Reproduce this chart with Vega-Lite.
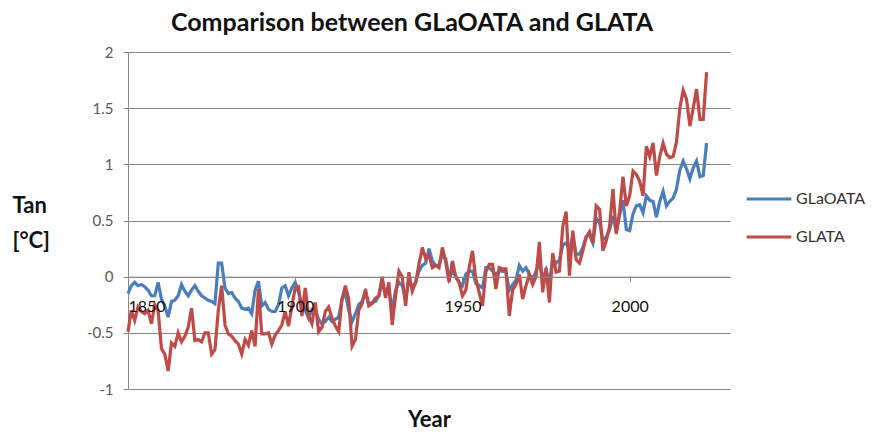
{
  "$schema": "https://vega.github.io/schema/vega-lite/v6.json",
  "autosize": "none",
  "width": 602,
  "height": 337,
  "padding": {"left": 128, "top": 52, "right": 148, "bottom": 47},
  "background": "white",
  "config": {"view": {"stroke": null}, "font": "Lato"},
  "title": {"text": "Comparison between GLaOATA and GLATA", "fontSize": 25, "fontWeight": "bold", "font": "Lato", "color": "#111111", "offset": 9, "dx": -17},
  "data": {"values": [
{"year":1850,"s":"GLaOATA","v":-0.15},{"year":1851,"s":"GLaOATA","v":-0.08},{"year":1852,"s":"GLaOATA","v":-0.05},{"year":1853,"s":"GLaOATA","v":-0.08},{"year":1854,"s":"GLaOATA","v":-0.07},{"year":1855,"s":"GLaOATA","v":-0.09},{"year":1856,"s":"GLaOATA","v":-0.12},{"year":1857,"s":"GLaOATA","v":-0.17},{"year":1858,"s":"GLaOATA","v":-0.17},{"year":1859,"s":"GLaOATA","v":-0.05},
{"year":1860,"s":"GLaOATA","v":-0.2},{"year":1861,"s":"GLaOATA","v":-0.26},{"year":1862,"s":"GLaOATA","v":-0.36},{"year":1863,"s":"GLaOATA","v":-0.22},{"year":1864,"s":"GLaOATA","v":-0.21},{"year":1865,"s":"GLaOATA","v":-0.17},{"year":1866,"s":"GLaOATA","v":-0.07},{"year":1867,"s":"GLaOATA","v":-0.13},{"year":1868,"s":"GLaOATA","v":-0.17},{"year":1869,"s":"GLaOATA","v":-0.12},
{"year":1870,"s":"GLaOATA","v":-0.08},{"year":1871,"s":"GLaOATA","v":-0.13},{"year":1872,"s":"GLaOATA","v":-0.17},{"year":1873,"s":"GLaOATA","v":-0.19},{"year":1874,"s":"GLaOATA","v":-0.21},{"year":1875,"s":"GLaOATA","v":-0.22},{"year":1876,"s":"GLaOATA","v":-0.24},{"year":1877,"s":"GLaOATA","v":0.12},{"year":1878,"s":"GLaOATA","v":0.12},{"year":1879,"s":"GLaOATA","v":-0.1},
{"year":1880,"s":"GLaOATA","v":-0.15},{"year":1881,"s":"GLaOATA","v":-0.14},{"year":1882,"s":"GLaOATA","v":-0.19},{"year":1883,"s":"GLaOATA","v":-0.22},{"year":1884,"s":"GLaOATA","v":-0.28},{"year":1885,"s":"GLaOATA","v":-0.29},{"year":1886,"s":"GLaOATA","v":-0.28},{"year":1887,"s":"GLaOATA","v":-0.33},{"year":1888,"s":"GLaOATA","v":-0.12},{"year":1889,"s":"GLaOATA","v":-0.04},
{"year":1890,"s":"GLaOATA","v":-0.26},{"year":1891,"s":"GLaOATA","v":-0.23},{"year":1892,"s":"GLaOATA","v":-0.29},{"year":1893,"s":"GLaOATA","v":-0.31},{"year":1894,"s":"GLaOATA","v":-0.31},{"year":1895,"s":"GLaOATA","v":-0.25},{"year":1896,"s":"GLaOATA","v":-0.1},{"year":1897,"s":"GLaOATA","v":-0.08},{"year":1898,"s":"GLaOATA","v":-0.17},{"year":1899,"s":"GLaOATA","v":-0.1},
{"year":1900,"s":"GLaOATA","v":-0.05},{"year":1901,"s":"GLaOATA","v":-0.14},{"year":1902,"s":"GLaOATA","v":-0.25},{"year":1903,"s":"GLaOATA","v":-0.3},{"year":1904,"s":"GLaOATA","v":-0.37},{"year":1905,"s":"GLaOATA","v":-0.29},{"year":1906,"s":"GLaOATA","v":-0.3},{"year":1907,"s":"GLaOATA","v":-0.38},{"year":1908,"s":"GLaOATA","v":-0.42},{"year":1909,"s":"GLaOATA","v":-0.4},
{"year":1910,"s":"GLaOATA","v":-0.36},{"year":1911,"s":"GLaOATA","v":-0.4},{"year":1912,"s":"GLaOATA","v":-0.38},{"year":1913,"s":"GLaOATA","v":-0.36},{"year":1914,"s":"GLaOATA","v":-0.2},{"year":1915,"s":"GLaOATA","v":-0.15},{"year":1916,"s":"GLaOATA","v":-0.3},{"year":1917,"s":"GLaOATA","v":-0.4},{"year":1918,"s":"GLaOATA","v":-0.33},{"year":1919,"s":"GLaOATA","v":-0.25},
{"year":1920,"s":"GLaOATA","v":-0.22},{"year":1921,"s":"GLaOATA","v":-0.14},{"year":1922,"s":"GLaOATA","v":-0.25},{"year":1923,"s":"GLaOATA","v":-0.23},{"year":1924,"s":"GLaOATA","v":-0.22},{"year":1925,"s":"GLaOATA","v":-0.17},{"year":1926,"s":"GLaOATA","v":-0.05},{"year":1927,"s":"GLaOATA","v":-0.15},{"year":1928,"s":"GLaOATA","v":-0.12},{"year":1929,"s":"GLaOATA","v":-0.3},
{"year":1930,"s":"GLaOATA","v":-0.12},{"year":1931,"s":"GLaOATA","v":-0.05},{"year":1932,"s":"GLaOATA","v":-0.08},{"year":1933,"s":"GLaOATA","v":-0.2},{"year":1934,"s":"GLaOATA","v":-0.03},{"year":1935,"s":"GLaOATA","v":-0.1},{"year":1936,"s":"GLaOATA","v":-0.05},{"year":1937,"s":"GLaOATA","v":0.05},{"year":1938,"s":"GLaOATA","v":0.1},{"year":1939,"s":"GLaOATA","v":0.12},
{"year":1940,"s":"GLaOATA","v":0.25},{"year":1941,"s":"GLaOATA","v":0.14},{"year":1942,"s":"GLaOATA","v":0.1},{"year":1943,"s":"GLaOATA","v":0.1},{"year":1944,"s":"GLaOATA","v":0.2},{"year":1945,"s":"GLaOATA","v":0.16},{"year":1946,"s":"GLaOATA","v":-0.02},{"year":1947,"s":"GLaOATA","v":0.05},{"year":1948,"s":"GLaOATA","v":0.0},{"year":1949,"s":"GLaOATA","v":-0.05},
{"year":1950,"s":"GLaOATA","v":-0.08},{"year":1951,"s":"GLaOATA","v":0.02},{"year":1952,"s":"GLaOATA","v":0.05},{"year":1953,"s":"GLaOATA","v":0.05},{"year":1954,"s":"GLaOATA","v":-0.06},{"year":1955,"s":"GLaOATA","v":-0.08},{"year":1956,"s":"GLaOATA","v":-0.1},{"year":1957,"s":"GLaOATA","v":0.08},{"year":1958,"s":"GLaOATA","v":0.08},{"year":1959,"s":"GLaOATA","v":0.05},
{"year":1960,"s":"GLaOATA","v":0.02},{"year":1961,"s":"GLaOATA","v":0.05},{"year":1962,"s":"GLaOATA","v":0.05},{"year":1963,"s":"GLaOATA","v":0.04},{"year":1964,"s":"GLaOATA","v":-0.12},{"year":1965,"s":"GLaOATA","v":-0.07},{"year":1966,"s":"GLaOATA","v":-0.03},{"year":1967,"s":"GLaOATA","v":0.1},{"year":1968,"s":"GLaOATA","v":0.05},{"year":1969,"s":"GLaOATA","v":0.08},
{"year":1970,"s":"GLaOATA","v":0.02},{"year":1971,"s":"GLaOATA","v":-0.02},{"year":1972,"s":"GLaOATA","v":0.05},{"year":1973,"s":"GLaOATA","v":0.12},{"year":1974,"s":"GLaOATA","v":-0.02},{"year":1975,"s":"GLaOATA","v":0.06},{"year":1976,"s":"GLaOATA","v":-0.05},{"year":1977,"s":"GLaOATA","v":0.15},{"year":1978,"s":"GLaOATA","v":0.12},{"year":1979,"s":"GLaOATA","v":0.15},
{"year":1980,"s":"GLaOATA","v":0.28},{"year":1981,"s":"GLaOATA","v":0.3},{"year":1982,"s":"GLaOATA","v":0.24},{"year":1983,"s":"GLaOATA","v":0.36},{"year":1984,"s":"GLaOATA","v":0.2},{"year":1985,"s":"GLaOATA","v":0.2},{"year":1986,"s":"GLaOATA","v":0.26},{"year":1987,"s":"GLaOATA","v":0.36},{"year":1988,"s":"GLaOATA","v":0.37},{"year":1989,"s":"GLaOATA","v":0.3},
{"year":1990,"s":"GLaOATA","v":0.52},{"year":1991,"s":"GLaOATA","v":0.48},{"year":1992,"s":"GLaOATA","v":0.33},{"year":1993,"s":"GLaOATA","v":0.35},{"year":1994,"s":"GLaOATA","v":0.42},{"year":1995,"s":"GLaOATA","v":0.54},{"year":1996,"s":"GLaOATA","v":0.4},{"year":1997,"s":"GLaOATA","v":0.55},{"year":1998,"s":"GLaOATA","v":0.68},{"year":1999,"s":"GLaOATA","v":0.42},
{"year":2000,"s":"GLaOATA","v":0.41},{"year":2001,"s":"GLaOATA","v":0.56},{"year":2002,"s":"GLaOATA","v":0.63},{"year":2003,"s":"GLaOATA","v":0.64},{"year":2004,"s":"GLaOATA","v":0.57},{"year":2005,"s":"GLaOATA","v":0.72},{"year":2006,"s":"GLaOATA","v":0.68},{"year":2007,"s":"GLaOATA","v":0.67},{"year":2008,"s":"GLaOATA","v":0.53},{"year":2009,"s":"GLaOATA","v":0.67},
{"year":2010,"s":"GLaOATA","v":0.76},{"year":2011,"s":"GLaOATA","v":0.63},{"year":2012,"s":"GLaOATA","v":0.67},{"year":2013,"s":"GLaOATA","v":0.7},{"year":2014,"s":"GLaOATA","v":0.78},{"year":2015,"s":"GLaOATA","v":0.95},{"year":2016,"s":"GLaOATA","v":1.03},{"year":2017,"s":"GLaOATA","v":0.96},{"year":2018,"s":"GLaOATA","v":0.87},{"year":2019,"s":"GLaOATA","v":0.97},
{"year":2020,"s":"GLaOATA","v":1.03},{"year":2021,"s":"GLaOATA","v":0.89},{"year":2022,"s":"GLaOATA","v":0.9},{"year":2023,"s":"GLaOATA","v":1.19},
{"year":1850,"s":"GLATA","v":-0.49},{"year":1851,"s":"GLATA","v":-0.3},{"year":1852,"s":"GLATA","v":-0.39},{"year":1853,"s":"GLATA","v":-0.27},{"year":1854,"s":"GLATA","v":-0.31},{"year":1855,"s":"GLATA","v":-0.33},{"year":1856,"s":"GLATA","v":-0.3},{"year":1857,"s":"GLATA","v":-0.42},{"year":1858,"s":"GLATA","v":-0.25},{"year":1859,"s":"GLATA","v":-0.3},
{"year":1860,"s":"GLATA","v":-0.64},{"year":1861,"s":"GLATA","v":-0.69},{"year":1862,"s":"GLATA","v":-0.84},{"year":1863,"s":"GLATA","v":-0.59},{"year":1864,"s":"GLATA","v":-0.62},{"year":1865,"s":"GLATA","v":-0.5},{"year":1866,"s":"GLATA","v":-0.58},{"year":1867,"s":"GLATA","v":-0.53},{"year":1868,"s":"GLATA","v":-0.45},{"year":1869,"s":"GLATA","v":-0.28},
{"year":1870,"s":"GLATA","v":-0.57},{"year":1871,"s":"GLATA","v":-0.56},{"year":1872,"s":"GLATA","v":-0.58},{"year":1873,"s":"GLATA","v":-0.5},{"year":1874,"s":"GLATA","v":-0.5},{"year":1875,"s":"GLATA","v":-0.69},{"year":1876,"s":"GLATA","v":-0.65},{"year":1877,"s":"GLATA","v":-0.3},{"year":1878,"s":"GLATA","v":-0.08},{"year":1879,"s":"GLATA","v":-0.43},
{"year":1880,"s":"GLATA","v":-0.51},{"year":1881,"s":"GLATA","v":-0.53},{"year":1882,"s":"GLATA","v":-0.57},{"year":1883,"s":"GLATA","v":-0.6},{"year":1884,"s":"GLATA","v":-0.69},{"year":1885,"s":"GLATA","v":-0.56},{"year":1886,"s":"GLATA","v":-0.61},{"year":1887,"s":"GLATA","v":-0.48},{"year":1888,"s":"GLATA","v":-0.62},{"year":1889,"s":"GLATA","v":-0.11},
{"year":1890,"s":"GLATA","v":-0.51},{"year":1891,"s":"GLATA","v":-0.51},{"year":1892,"s":"GLATA","v":-0.5},{"year":1893,"s":"GLATA","v":-0.6},{"year":1894,"s":"GLATA","v":-0.52},{"year":1895,"s":"GLATA","v":-0.48},{"year":1896,"s":"GLATA","v":-0.43},{"year":1897,"s":"GLATA","v":-0.31},{"year":1898,"s":"GLATA","v":-0.44},{"year":1899,"s":"GLATA","v":-0.26},
{"year":1900,"s":"GLATA","v":-0.1},{"year":1901,"s":"GLATA","v":-0.09},{"year":1902,"s":"GLATA","v":-0.35},{"year":1903,"s":"GLATA","v":-0.1},{"year":1904,"s":"GLATA","v":-0.35},{"year":1905,"s":"GLATA","v":-0.42},{"year":1906,"s":"GLATA","v":-0.23},{"year":1907,"s":"GLATA","v":-0.49},{"year":1908,"s":"GLATA","v":-0.45},{"year":1909,"s":"GLATA","v":-0.31},
{"year":1910,"s":"GLATA","v":-0.27},{"year":1911,"s":"GLATA","v":-0.37},{"year":1912,"s":"GLATA","v":-0.44},{"year":1913,"s":"GLATA","v":-0.49},{"year":1914,"s":"GLATA","v":-0.2},{"year":1915,"s":"GLATA","v":-0.08},{"year":1916,"s":"GLATA","v":-0.2},{"year":1917,"s":"GLATA","v":-0.62},{"year":1918,"s":"GLATA","v":-0.56},{"year":1919,"s":"GLATA","v":-0.3},
{"year":1920,"s":"GLATA","v":-0.24},{"year":1921,"s":"GLATA","v":-0.11},{"year":1922,"s":"GLATA","v":-0.26},{"year":1923,"s":"GLATA","v":-0.24},{"year":1924,"s":"GLATA","v":-0.19},{"year":1925,"s":"GLATA","v":-0.17},{"year":1926,"s":"GLATA","v":0.0},{"year":1927,"s":"GLATA","v":-0.19},{"year":1928,"s":"GLATA","v":-0.05},{"year":1929,"s":"GLATA","v":-0.43},
{"year":1930,"s":"GLATA","v":-0.17},{"year":1931,"s":"GLATA","v":0.05},{"year":1932,"s":"GLATA","v":0.0},{"year":1933,"s":"GLATA","v":-0.26},{"year":1934,"s":"GLATA","v":0.04},{"year":1935,"s":"GLATA","v":-0.13},{"year":1936,"s":"GLATA","v":-0.05},{"year":1937,"s":"GLATA","v":0.11},{"year":1938,"s":"GLATA","v":0.26},{"year":1939,"s":"GLATA","v":0.16},
{"year":1940,"s":"GLATA","v":0.19},{"year":1941,"s":"GLATA","v":0.08},{"year":1942,"s":"GLATA","v":0.1},{"year":1943,"s":"GLATA","v":0.08},{"year":1944,"s":"GLATA","v":0.26},{"year":1945,"s":"GLATA","v":0.13},{"year":1946,"s":"GLATA","v":-0.05},{"year":1947,"s":"GLATA","v":0.14},{"year":1948,"s":"GLATA","v":0.0},{"year":1949,"s":"GLATA","v":-0.05},
{"year":1950,"s":"GLATA","v":-0.17},{"year":1951,"s":"GLATA","v":-0.12},{"year":1952,"s":"GLATA","v":0.08},{"year":1953,"s":"GLATA","v":0.23},{"year":1954,"s":"GLATA","v":-0.02},{"year":1955,"s":"GLATA","v":-0.14},{"year":1956,"s":"GLATA","v":-0.26},{"year":1957,"s":"GLATA","v":0.04},{"year":1958,"s":"GLATA","v":0.11},{"year":1959,"s":"GLATA","v":0.11},
{"year":1960,"s":"GLATA","v":-0.11},{"year":1961,"s":"GLATA","v":0.08},{"year":1962,"s":"GLATA","v":0.07},{"year":1963,"s":"GLATA","v":0.07},{"year":1964,"s":"GLATA","v":-0.35},{"year":1965,"s":"GLATA","v":-0.12},{"year":1966,"s":"GLATA","v":-0.07},{"year":1967,"s":"GLATA","v":0.02},{"year":1968,"s":"GLATA","v":-0.2},{"year":1969,"s":"GLATA","v":-0.08},
{"year":1970,"s":"GLATA","v":0.02},{"year":1971,"s":"GLATA","v":-0.07},{"year":1972,"s":"GLATA","v":0.0},{"year":1973,"s":"GLATA","v":0.31},{"year":1974,"s":"GLATA","v":-0.14},{"year":1975,"s":"GLATA","v":0.08},{"year":1976,"s":"GLATA","v":-0.23},{"year":1977,"s":"GLATA","v":0.21},{"year":1978,"s":"GLATA","v":0.04},{"year":1979,"s":"GLATA","v":0.05},
{"year":1980,"s":"GLATA","v":0.45},{"year":1981,"s":"GLATA","v":0.58},{"year":1982,"s":"GLATA","v":0.01},{"year":1983,"s":"GLATA","v":0.41},{"year":1984,"s":"GLATA","v":0.15},{"year":1985,"s":"GLATA","v":0.12},{"year":1986,"s":"GLATA","v":0.23},{"year":1987,"s":"GLATA","v":0.35},{"year":1988,"s":"GLATA","v":0.4},{"year":1989,"s":"GLATA","v":0.3},
{"year":1990,"s":"GLATA","v":0.63},{"year":1991,"s":"GLATA","v":0.6},{"year":1992,"s":"GLATA","v":0.23},{"year":1993,"s":"GLATA","v":0.32},{"year":1994,"s":"GLATA","v":0.45},{"year":1995,"s":"GLATA","v":0.78},{"year":1996,"s":"GLATA","v":0.38},{"year":1997,"s":"GLATA","v":0.58},{"year":1998,"s":"GLATA","v":0.89},{"year":1999,"s":"GLATA","v":0.63},
{"year":2000,"s":"GLATA","v":0.72},{"year":2001,"s":"GLATA","v":0.94},{"year":2002,"s":"GLATA","v":0.91},{"year":2003,"s":"GLATA","v":0.85},{"year":2004,"s":"GLATA","v":0.72},{"year":2005,"s":"GLATA","v":1.16},{"year":2006,"s":"GLATA","v":1.07},{"year":2007,"s":"GLATA","v":1.19},{"year":2008,"s":"GLATA","v":0.9},{"year":2009,"s":"GLATA","v":1.07},
{"year":2010,"s":"GLATA","v":1.19},{"year":2011,"s":"GLATA","v":1.09},{"year":2012,"s":"GLATA","v":1.06},{"year":2013,"s":"GLATA","v":1.07},{"year":2014,"s":"GLATA","v":1.2},{"year":2015,"s":"GLATA","v":1.5},{"year":2016,"s":"GLATA","v":1.66},{"year":2017,"s":"GLATA","v":1.58},{"year":2018,"s":"GLATA","v":1.34},{"year":2019,"s":"GLATA","v":1.5},
{"year":2020,"s":"GLATA","v":1.67},{"year":2021,"s":"GLATA","v":1.4},{"year":2022,"s":"GLATA","v":1.4},{"year":2023,"s":"GLATA","v":1.82}
  ]},
  "mark": {"type": "line", "strokeWidth": 3.2, "interpolate": "linear"},
  "encoding": {
    "x": {
      "field": "year", "type": "quantitative",
      "scale": {"domain": [1850, 2030], "nice": false, "zero": false},
      "axis": {
        "values": [1850, 1900, 1950, 2000], "format": "d", "grid": false, "zindex": 1,
        "offset": -112.3, "domain": true, "domainColor": "#878787",
        "ticks": true, "tickColor": "#878787", "tickSize": 5,
        "labelFont": "Lato", "labelFontSize": 16, "labelColor": "#111111", "labelPadding": 17,
        "title": "Year", "titleFont": "Lato", "titleFontSize": 22, "titleFontWeight": "bold", "titleColor": "#111111",
        "titleBaseline": "middle", "titleY": 143
      }
    },
    "y": {
      "field": "v", "type": "quantitative",
      "scale": {"domain": [-1, 2], "nice": false, "zero": false},
      "axis": {
        "values": [-1, -0.5, 0, 0.5, 1, 1.5, 2], "labelExpr": "datum.value + ''", "grid": true, "gridColor": "#878787", "gridWidth": 1,
        "domain": true, "domainColor": "#878787", "ticks": true, "tickColor": "#878787", "tickSize": 5,
        "labelFont": "Lato", "labelFontSize": 15, "labelColor": "#595959", "labelPadding": 10,
        "title": ["Tan", "[°C]"], "titleFont": "Lato", "titleFontSize": 22, "titleFontWeight": "bold", "titleColor": "#111111",
        "titleAngle": 0, "titleAlign": "left", "titleBaseline": "middle", "titleX": -116, "titleY": 153, "titleLineHeight": 35
      }
    },
    "color": {
      "field": "s", "type": "nominal",
      "scale": {"domain": ["GLaOATA", "GLATA"], "range": ["#4A7EBB", "#BE4B48"]},
      "legend": {
        "title": null, "orient": "none", "legendX": 617, "legendY": 123,
        "symbolType": "stroke", "symbolSize": 2000, "symbolStrokeWidth": 3,
        "labelFont": "Lato", "labelFontSize": 16, "labelColor": "#333333", "labelOffset": 3,
        "rowPadding": 6
      }
    }
  }
}
